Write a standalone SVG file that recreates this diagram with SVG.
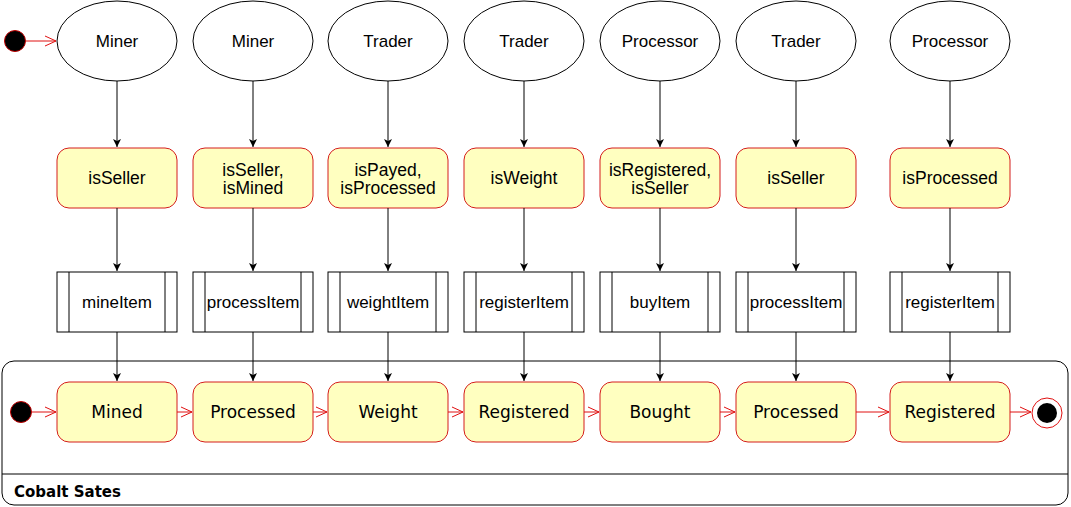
<svg xmlns="http://www.w3.org/2000/svg" width="1071" height="507" viewBox="0 0 1071 507">
<style>
.actor{fill:#fff;stroke:#000;stroke-width:1}
.guard{fill:#ffffc0;stroke:#d41c1c;stroke-width:1}
.proc{fill:#fff;stroke:#000;stroke-width:1}
.state{fill:#ffffc0;stroke:#d41c1c;stroke-width:1}
.t{font-family:"Liberation Sans",Arial,sans-serif;font-size:17px;fill:#000;text-anchor:middle}
.tg{font-family:"Liberation Sans",Arial,sans-serif;font-size:17.5px;fill:#000;text-anchor:middle}
.ts{font-family:"DejaVu Sans",Verdana,sans-serif;font-size:17px;fill:#000;text-anchor:middle}
.blk{stroke:#000;stroke-width:1;fill:none}
.red{stroke:#e01010;stroke-width:1;fill:none}
</style>
<defs>
<marker id="ab" markerWidth="10" markerHeight="10" refX="9" refY="5" orient="auto" markerUnits="userSpaceOnUse">
<path d="M1,1 L9,5 L1,9 L3,5 Z" fill="#000"/>
</marker>
<marker id="ar" markerWidth="14" markerHeight="12" refX="12" refY="6" orient="auto" markerUnits="userSpaceOnUse">
<path d="M1,1 L12,6 L1,11" fill="none" stroke="#e01010" stroke-width="1"/>
</marker>
</defs>

<g id="container">
<rect x="2" y="361" width="1066" height="144" rx="12" fill="#fff" stroke="#000"/>
<line x1="2" y1="474" x2="1068" y2="474" stroke="#000"/>
<text x="14" y="497" font-family="'DejaVu Sans',Verdana,sans-serif" font-size="15" font-weight="bold">Cobalt Sates</text>
</g>

<g id="start-top"><circle cx="15" cy="41" r="10.5" fill="#000" stroke="#c00000"/></g>
<g id="start-states"><circle cx="21" cy="412" r="10.5" fill="#000" stroke="#c00000"/></g>
<g id="end-states"><circle cx="1047" cy="413" r="15" fill="#fff" stroke="#e01010"/><circle cx="1047" cy="413" r="10" fill="#000"/></g>

<g id="actor1"><ellipse class="actor" cx="117" cy="41" rx="60" ry="40"/><text class="t" x="117" y="47">Miner</text></g>
<g id="actor2"><ellipse class="actor" cx="253" cy="41" rx="60" ry="40"/><text class="t" x="253" y="47">Miner</text></g>
<g id="actor3"><ellipse class="actor" cx="388" cy="41" rx="60" ry="40"/><text class="t" x="388" y="47">Trader</text></g>
<g id="actor4"><ellipse class="actor" cx="524" cy="41" rx="60" ry="40"/><text class="t" x="524" y="47">Trader</text></g>
<g id="actor5"><ellipse class="actor" cx="660" cy="41" rx="60" ry="40"/><text class="t" x="660" y="47">Processor</text></g>
<g id="actor6"><ellipse class="actor" cx="796" cy="41" rx="60" ry="40"/><text class="t" x="796" y="47">Trader</text></g>
<g id="actor7"><ellipse class="actor" cx="950" cy="41" rx="60" ry="40"/><text class="t" x="950" y="47">Processor</text></g>

<g id="guard1"><rect class="guard" x="57" y="148" width="120" height="60" rx="12"/><text class="tg" x="117" y="184">isSeller</text></g>
<g id="guard2"><rect class="guard" x="193" y="148" width="120" height="60" rx="12"/><text class="tg" x="253" y="176">isSeller,</text><text class="tg" x="253" y="194">isMined</text></g>
<g id="guard3"><rect class="guard" x="328" y="148" width="120" height="60" rx="12"/><text class="tg" x="388" y="176">isPayed,</text><text class="tg" x="388" y="194">isProcessed</text></g>
<g id="guard4"><rect class="guard" x="464" y="148" width="120" height="60" rx="12"/><text class="tg" x="524" y="184">isWeight</text></g>
<g id="guard5"><rect class="guard" x="600" y="148" width="120" height="60" rx="12"/><text class="tg" x="660" y="176">isRegistered,</text><text class="tg" x="660" y="194">isSeller</text></g>
<g id="guard6"><rect class="guard" x="736" y="148" width="120" height="60" rx="12"/><text class="tg" x="796" y="184">isSeller</text></g>
<g id="guard7"><rect class="guard" x="890" y="148" width="120" height="60" rx="12"/><text class="tg" x="950" y="184">isProcessed</text></g>

<g id="proc1"><rect class="proc" x="57" y="272" width="120" height="60"/><line class="blk" x1="69" y1="272" x2="69" y2="332"/><line class="blk" x1="165" y1="272" x2="165" y2="332"/><text class="t" x="117" y="308">mineItem</text></g>
<g id="proc2"><rect class="proc" x="193" y="272" width="120" height="60"/><line class="blk" x1="205" y1="272" x2="205" y2="332"/><line class="blk" x1="301" y1="272" x2="301" y2="332"/><text class="t" x="253" y="308">processItem</text></g>
<g id="proc3"><rect class="proc" x="328" y="272" width="120" height="60"/><line class="blk" x1="340" y1="272" x2="340" y2="332"/><line class="blk" x1="436" y1="272" x2="436" y2="332"/><text class="t" x="388" y="308">weightItem</text></g>
<g id="proc4"><rect class="proc" x="464" y="272" width="120" height="60"/><line class="blk" x1="476" y1="272" x2="476" y2="332"/><line class="blk" x1="572" y1="272" x2="572" y2="332"/><text class="t" x="524" y="308">registerItem</text></g>
<g id="proc5"><rect class="proc" x="600" y="272" width="120" height="60"/><line class="blk" x1="612" y1="272" x2="612" y2="332"/><line class="blk" x1="708" y1="272" x2="708" y2="332"/><text class="t" x="660" y="308">buyItem</text></g>
<g id="proc6"><rect class="proc" x="736" y="272" width="120" height="60"/><line class="blk" x1="748" y1="272" x2="748" y2="332"/><line class="blk" x1="844" y1="272" x2="844" y2="332"/><text class="t" x="796" y="308">processItem</text></g>
<g id="proc7"><rect class="proc" x="890" y="272" width="120" height="60"/><line class="blk" x1="902" y1="272" x2="902" y2="332"/><line class="blk" x1="998" y1="272" x2="998" y2="332"/><text class="t" x="950" y="308">registerItem</text></g>

<g id="state1"><rect class="state" x="57" y="382" width="120" height="60" rx="12"/><text class="ts" x="117" y="418">Mined</text></g>
<g id="state2"><rect class="state" x="193" y="382" width="120" height="60" rx="12"/><text class="ts" x="253" y="418">Processed</text></g>
<g id="state3"><rect class="state" x="328" y="382" width="120" height="60" rx="12"/><text class="ts" x="388" y="418">Weight</text></g>
<g id="state4"><rect class="state" x="464" y="382" width="120" height="60" rx="12"/><text class="ts" x="524" y="418">Registered</text></g>
<g id="state5"><rect class="state" x="600" y="382" width="120" height="60" rx="12"/><text class="ts" x="660" y="418">Bought</text></g>
<g id="state6"><rect class="state" x="736" y="382" width="120" height="60" rx="12"/><text class="ts" x="796" y="418">Processed</text></g>
<g id="state7"><rect class="state" x="890" y="382" width="120" height="60" rx="12"/><text class="ts" x="950" y="418">Registered</text></g>

<g id="connectors">
<line class="red" x1="26" y1="41" x2="56" y2="41" marker-end="url(#ar)"/>
<line class="red" x1="32" y1="412" x2="56" y2="412" marker-end="url(#ar)"/>
<line class="red" x1="177" y1="412" x2="192" y2="412" marker-end="url(#ar)"/>
<line class="red" x1="313" y1="412" x2="327" y2="412" marker-end="url(#ar)"/>
<line class="red" x1="448" y1="412" x2="463" y2="412" marker-end="url(#ar)"/>
<line class="red" x1="584" y1="412" x2="599" y2="412" marker-end="url(#ar)"/>
<line class="red" x1="720" y1="412" x2="735" y2="412" marker-end="url(#ar)"/>
<line class="red" x1="856" y1="412" x2="889" y2="412" marker-end="url(#ar)"/>
<line class="red" x1="1010" y1="412" x2="1031" y2="412" marker-end="url(#ar)"/>

<g class="blk" marker-end="url(#ab)">
<line x1="117" y1="81" x2="117" y2="147"/><line x1="117" y1="208" x2="117" y2="271"/><line x1="117" y1="332" x2="117" y2="381"/>
<line x1="253" y1="81" x2="253" y2="147"/><line x1="253" y1="208" x2="253" y2="271"/><line x1="253" y1="332" x2="253" y2="381"/>
<line x1="388" y1="81" x2="388" y2="147"/><line x1="388" y1="208" x2="388" y2="271"/><line x1="388" y1="332" x2="388" y2="381"/>
<line x1="524" y1="81" x2="524" y2="147"/><line x1="524" y1="208" x2="524" y2="271"/><line x1="524" y1="332" x2="524" y2="381"/>
<line x1="660" y1="81" x2="660" y2="147"/><line x1="660" y1="208" x2="660" y2="271"/><line x1="660" y1="332" x2="660" y2="381"/>
<line x1="796" y1="81" x2="796" y2="147"/><line x1="796" y1="208" x2="796" y2="271"/><line x1="796" y1="332" x2="796" y2="381"/>
<line x1="950" y1="81" x2="950" y2="147"/><line x1="950" y1="208" x2="950" y2="271"/><line x1="950" y1="332" x2="950" y2="381"/>
</g>
</g>
</svg>
